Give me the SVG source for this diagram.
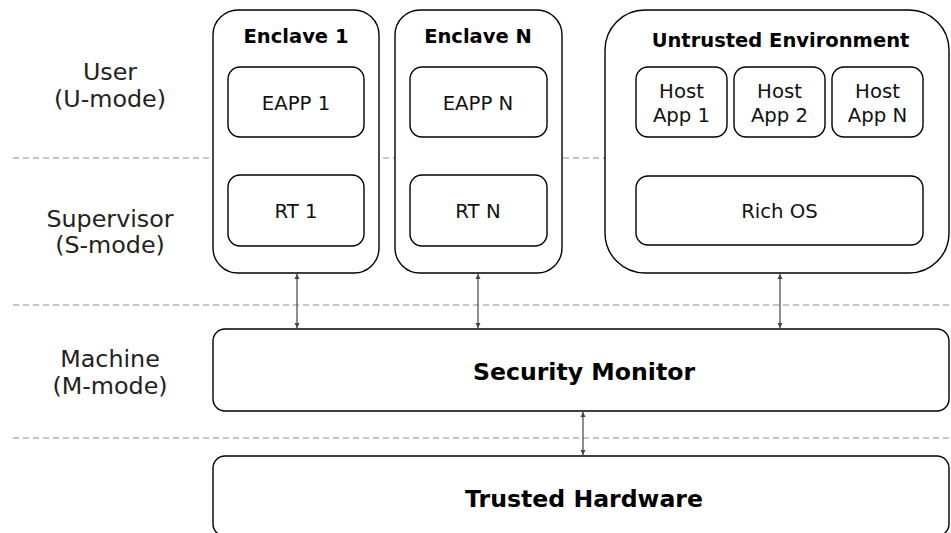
<svg xmlns="http://www.w3.org/2000/svg" width="951" height="533" viewBox="0 0 951 533">
  <defs>
    <marker id="arrow" viewBox="0 0 10 10" refX="10" refY="5" markerWidth="5" markerHeight="6" orient="auto-start-reverse" markerUnits="userSpaceOnUse">
      <path d="M0,0 L10,5 L0,10 z" fill="#444"/>
    </marker>
    <style>
      .box { fill: #fff; stroke: #000; stroke-width: 1.4; }
      .sep { stroke: #b4b4b4; stroke-width: 1.4; stroke-dasharray: 6 4; fill: none; }
      .conn { stroke: #444; stroke-width: 1.2; fill: none; marker-start: url(#arrow); marker-end: url(#arrow); }
      text { font-family: "DejaVu Sans", Verdana, sans-serif; fill: #000; text-anchor: middle; }
      .lvl { font-size: 23.8px; fill: #222; }
      .lbl { font-size: 19.7px; fill: #111; }
      .ttl { font-size: 19.5px; font-weight: bold; }
      .big { font-size: 23.6px; font-weight: bold; }
    </style>
  </defs>

  <!-- privilege level separators -->
  <g id="separators">
    <line class="sep" x1="13" y1="158" x2="951" y2="158"/>
    <line class="sep" x1="13" y1="305" x2="951" y2="305"/>
    <line class="sep" x1="13" y1="438" x2="951" y2="438"/>
  </g>

  <!-- privilege level labels -->
  <g id="levels">
    <text class="lvl" x="110" y="80">User</text>
    <text class="lvl" x="110" y="107">(U-mode)</text>
    <text class="lvl" x="110" y="227">Supervisor</text>
    <text class="lvl" x="110" y="253">(S-mode)</text>
    <text class="lvl" x="110" y="367">Machine</text>
    <text class="lvl" x="110" y="394">(M-mode)</text>
  </g>

  <g id="enclave-1">
    <rect class="box" x="213" y="10" width="166" height="263" rx="25"/>
    <text class="ttl" x="296" y="43">Enclave 1</text>
    <g id="eapp-1">
      <rect class="box" x="228" y="67" width="136" height="70" rx="12"/>
      <text class="lbl" x="296" y="110">EAPP 1</text>
    </g>
    <g id="rt-1">
      <rect class="box" x="228" y="175" width="136" height="71" rx="12"/>
      <text class="lbl" x="296" y="218">RT 1</text>
    </g>
  </g>

  <g id="enclave-n">
    <rect class="box" x="395" y="10" width="167" height="263" rx="25"/>
    <text class="ttl" x="478" y="43">Enclave N</text>
    <g id="eapp-n">
      <rect class="box" x="410" y="67" width="137" height="70" rx="12"/>
      <text class="lbl" x="478" y="110">EAPP N</text>
    </g>
    <g id="rt-n">
      <rect class="box" x="410" y="175" width="137" height="71" rx="12"/>
      <text class="lbl" x="478" y="218">RT N</text>
    </g>
  </g>

  <g id="untrusted-env">
    <rect class="box" x="605" y="10" width="344" height="263" rx="40"/>
    <text class="ttl" x="780.5" y="47">Untrusted Environment</text>
    <g id="host-app-1">
      <rect class="box" x="636" y="67" width="91" height="70" rx="12"/>
      <text class="lbl" x="681.5" y="98">Host</text>
      <text class="lbl" x="681.5" y="122">App 1</text>
    </g>
    <g id="host-app-2">
      <rect class="box" x="734" y="67" width="91" height="70" rx="12"/>
      <text class="lbl" x="779.5" y="98">Host</text>
      <text class="lbl" x="779.5" y="122">App 2</text>
    </g>
    <g id="host-app-n">
      <rect class="box" x="832" y="67" width="91" height="70" rx="12"/>
      <text class="lbl" x="877.5" y="98">Host</text>
      <text class="lbl" x="877.5" y="122">App N</text>
    </g>
    <g id="rich-os">
      <rect class="box" x="636" y="176" width="287" height="69" rx="12"/>
      <text class="lbl" x="779.5" y="218">Rich OS</text>
    </g>
  </g>

  <g id="security-monitor">
    <rect class="box" x="213" y="329" width="736" height="82" rx="12"/>
    <text class="big" x="584" y="380">Security Monitor</text>
  </g>

  <g id="trusted-hardware">
    <rect class="box" x="213" y="456" width="736" height="80" rx="12"/>
    <text class="big" x="584" y="507">Trusted Hardware</text>
  </g>

  <!-- calls between layers -->
  <g id="connectors">
    <line class="conn" x1="297" y1="274" x2="297" y2="328"/>
    <line class="conn" x1="478" y1="274" x2="478" y2="328"/>
    <line class="conn" x1="780" y1="274" x2="780" y2="328"/>
    <line class="conn" x1="583" y1="412" x2="583" y2="455"/>
  </g>
</svg>
